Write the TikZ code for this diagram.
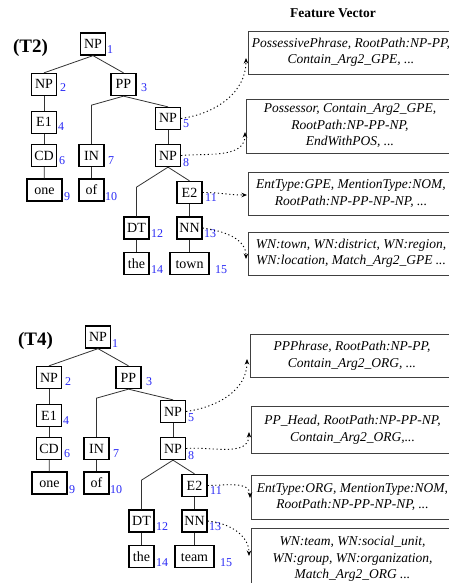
\documentclass[tikz,border=0pt]{standalone}
\usepackage{fontspec}
\setmainfont{Liberation Serif}
\usetikzlibrary{arrows.meta,calc}
\definecolor{numblue}{RGB}{40,40,245}
\newcommand\mytree[3]{%
  \node[tlabel] (#1T) at (30.5,48) {(#2)};
  \node[tn] (#1NP1) at (93,44) {NP};
  \node[tn] (#1NP2) at (44,84.5) {NP};
  \node[tn] (#1PP3) at (123.5,84.5) {PP};
  \node[tn] (#1E1) at (44,122.5) {E1};
  \node[tn] (#1NP5) at (168,118.5) {NP};
  \node[tn] (#1CD) at (44,155.5) {CD};
  \node[tn] (#1IN) at (91.5,155.5) {IN};
  \node[tn] (#1NP8) at (168,155.5) {NP};
  \node[tn,minimum width=35pt] (#1one) at (44.5,190) {one};
  \node[tn] (#1of) at (91.5,190) {of};
  \node[tn] (#1E2) at (189.5,192.5) {E2};
  \node[tn] (#1DT) at (136.5,228) {DT};
  \node[tn] (#1NN) at (189.5,228) {NN};
  \node[tn] (#1the) at (136.5,263.5) {the};
  \node[tn,minimum width=39pt] (#1w) at (189.5,263.5) {#3};
  % numbers
  \node[num] (#1n1) at (107,54) {1};
  \node[num] (#1n2) at (60,92) {2};
  \node[num] (#1n3) at (141,92) {3};
  \node[num] (#1n4) at (58,131) {4};
  \node[num] (#1n5) at (183,128) {5};
  \node[num] (#1n6) at (59,164) {6};
  \node[num] (#1n7) at (108,164) {7};
  \node[num] (#1n8) at (183,166) {8};
  \node[num] (#1n9) at (64,200) {9};
  \node[num] (#1n10) at (105,200) {10};
  \node[num] (#1n11) at (205,201) {11};
  \node[num] (#1n12) at (151,237) {12};
  \node[num] (#1n13) at (204,237) {13};
  \node[num] (#1n14) at (151,273) {14};
  \node[num] (#1n15) at (215,273) {15};
  % edges
  \coordinate (#1b1) at ($(#1PP3.south)+(0,9)$);
  \coordinate (#1b2) at ($(#1NP8.south)+(0,20)$);
  \draw[edge] (#1NP1.south) -- (#1NP2.north);
  \draw[edge] (#1NP1.south) -- (#1PP3.north);
  \draw[edge] (#1NP2) -- (#1E1);
  \draw[edge] (#1E1) -- (#1CD);
  \draw[edge] (#1CD) -- (#1one);
  \draw[edge] (#1PP3.south) -- (#1IN.north |- #1b1) -- (#1IN.north);
  \draw[edge] (#1PP3.south) -- (#1NP5.north);
  \draw[edge] (#1IN) -- (#1of);
  \draw[edge] (#1NP5) -- (#1NP8);
  \draw[edge] (#1NP8.south) -- (#1DT.north |- #1b2) -- (#1DT.north);
  \draw[edge] (#1NP8.south) -- (#1E2.north);
  \draw[edge] (#1E2) -- (#1NN);
  \draw[edge] (#1NN) -- (#1w);
  \draw[edge] (#1DT) -- (#1the);
}
\begin{document}
\begin{tikzpicture}[x=1pt,y=-1pt,
  tn/.style={draw=black, line width=1.3pt, minimum width=25pt, minimum height=22pt,
    inner sep=0pt, text height=10.5pt, text depth=1.5pt, font=\fontsize{14}{14}\selectfont},
  num/.style={text=numblue, font=\fontsize{12}{12}\selectfont, inner sep=0pt, anchor=base west},
  tlabel/.style={font=\fontsize{19}{19}\selectfont\bfseries, inner sep=0pt},
  edge/.style={line width=0.8pt, draw=black!80},
  fbox/.style={draw=black!75, line width=0.8pt, align=center,
    font=\fontsize{13.5}{16.5}\selectfont\itshape, inner sep=0pt},
  farrow/.style={line width=0.9pt, dash pattern=on 1.2pt off 2.6pt,
    -{Stealth[length=5.5pt,width=4.5pt]}},
]
\useasboundingbox (0,0) rectangle (449,583);
\clip (0,0) rectangle (449,583);

\node[font=\fontsize{13.5}{14}\selectfont\bfseries, inner sep=0pt] (title) at (333,13) {Feature Vector};

\mytree{a}{T2}{town}
\begin{scope}[shift={(5,293)}]
\mytree{b}{T4}{team}
\end{scope}

% feature boxes, top
\node[fbox, minimum width=206pt, minimum height=43pt] (fa1) at (351,52.5)
  {PossessivePhrase, RootPath:NP-PP,\\Contain\_Arg2\_GPE, ...};
\node[fbox, minimum width=208pt, minimum height=54pt] (fa2) at (350,126)
  {Possessor, Contain\_Arg2\_GPE,\\RootPath:NP-PP-NP,\\EndWithPOS, ...};
\node[fbox, minimum width=206pt, minimum height=43pt] (fa3) at (351,193.5)
  {EntType:GPE, MentionType:NOM,\\RootPath:NP-PP-NP-NP, ...};
\node[fbox, minimum width=206pt, minimum height=43pt] (fa4) at (351,253.5)
  {WN:town, WN:district, WN:region,\\WN:location, Match\_Arg2\_GPE ...};

% feature boxes, bottom
\node[fbox, minimum width=204pt, minimum height=43pt] (fb1) at (352,355.5)
  {PPPhrase, RootPath:NP-PP,\\Contain\_Arg2\_ORG, ...};
\node[fbox, minimum width=203pt, minimum height=47pt] (fb2) at (352.5,429.5)
  {PP\_Head, RootPath:NP-PP-NP,\\Contain\_Arg2\_ORG,...};
\node[fbox, minimum width=203pt, minimum height=44pt] (fb3) at (352.5,497)
  {EntType:ORG, MentionType:NOM,\\RootPath:NP-PP-NP-NP, ...};
\node[fbox, minimum width=203pt, minimum height=62pt] (fb4) at (352.5,559)
  {WN:team, WN:social\_unit,\\WN:group, WN:organization,\\Match\_Arg2\_ORG ...};

% arrow tips
\coordinate (ta1) at (246,58);
\coordinate (ta2) at (245,132);
\coordinate (ta3) at (247,195);
\coordinate (ta4) at (246,259);
\coordinate (tb1) at (247,359);
\coordinate (tb2) at (249,432);
\coordinate (tb3) at (250,498);
\coordinate (tb4) at (249,556);

\draw[farrow] (aNP5.east) to[out=8,in=-90] (ta1);
\draw[farrow] (aNP8.east) to[out=5,in=-90] (ta2);
\draw[farrow] (aE2.east) to[out=0,in=180] (ta3);
\draw[farrow] (aNN.east) to[out=-8,in=90] (ta4);
\draw[farrow] (bNP5.east) to[out=8,in=-90] (tb1);
\draw[farrow] (bNP8.east) to[out=5,in=-90] (tb2);
\draw[farrow] (bE2.east) to[out=0,in=90] (tb3);
\draw[farrow] (bNN.east) to[out=-5,in=90] (tb4);
\end{tikzpicture}
\end{document}
